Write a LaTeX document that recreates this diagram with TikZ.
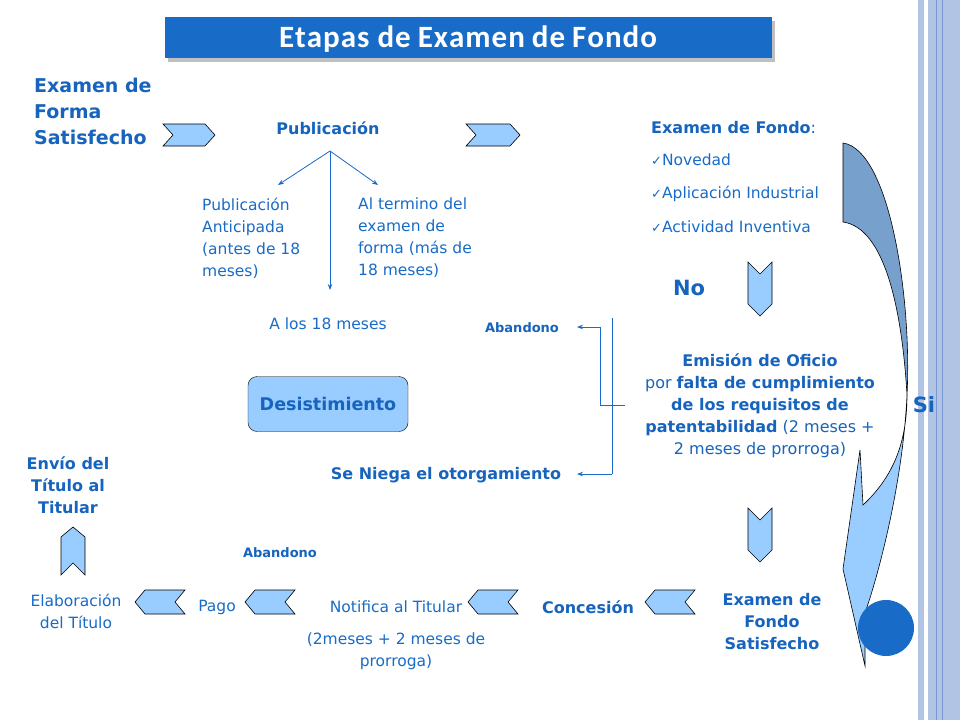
\documentclass[tikz,border=0pt]{standalone}
\usepackage{fontspec}
\usetikzlibrary{arrows.meta}
\setmainfont{DejaVu Sans}
\newfontfamily\titlefont{Carlito}
\newfontfamily\symfont{DejaVu Sans}
\definecolor{tblue}{RGB}{24,108,200}
\definecolor{dblue}{RGB}{22,100,190}
\definecolor{chev}{RGB}{153,204,255}
\definecolor{ribdark}{RGB}{120,160,204}
\definecolor{stripe}{RGB}{178,196,228}
\definecolor{stripeline}{RGB}{120,150,210}
\begin{document}
\begin{tikzpicture}[x=1pt,y=-1pt,
  txt/.style={text=tblue,font=\fontsize{15.5}{22}\selectfont,inner sep=0pt},
  btxt/.style={text=dblue,font=\fontsize{16}{22}\bfseries\selectfont,inner sep=0pt},
  chevbox/.style={fill=chev,draw=black,line width=0.6pt},
  conn/.style={draw=tblue,line width=0.8pt,-{Stealth[length=6pt]}},
  plainline/.style={draw=tblue,line width=0.8pt}]
\useasboundingbox (0,0) rectangle (960,720);
\fill[white] (0,0) rectangle (960,720);
% right stripes
\fill[stripe] (918,0) rectangle (924,720);
\fill[stripe] (928,0) rectangle (960,720);
\draw[stripeline,line width=0.8pt] (936,0) -- (936,720);
\draw[stripeline,line width=0.5pt] (942,0) -- (942,720);
% title
\fill[black!25] (168,21) rectangle (775,62);
\fill[tblue] (165,17) rectangle (772,58);
\node[text=white,font=\titlefont\fontsize{31}{32}\bfseries\selectfont,inner sep=0pt] (title) at (468,39) {E\kern1pt t\kern1pt a\kern1pt p\kern1pt a\kern1pt s\kern1pt\ d\kern1pt e\ E\kern1pt x\kern1pt a\kern1pt m\kern1pt e\kern1pt n\ d\kern1pt e\ F\kern1pt o\kern1pt n\kern1pt d\kern1pt o};
% chevrons right
\draw[chevbox] (163,124) -- (205,124) -- (215,135) -- (205,146) -- (163,146) -- (173,135) -- cycle;
\draw[chevbox] (466,124) -- (510,124) -- (520,135) -- (510,146) -- (466,146) -- (476,135) -- cycle;
% chevrons down
\draw[chevbox] (748,262) -- (760,274) -- (772,262) -- (772,304) -- (760,316) -- (748,304) -- cycle;
\draw[chevbox] (748,508) -- (760,520) -- (772,508) -- (772,550) -- (760,562) -- (748,550) -- cycle;
% chevrons left
\foreach \xa in {645,468,245,135}{
  \draw[chevbox] (\xa+10,590) -- (\xa+50,590) -- (\xa+40,602) -- (\xa+50,614) -- (\xa+10,614) -- (\xa,602) -- cycle;}
% chevron up
\draw[chevbox] (61,537) -- (73,527) -- (85,537) -- (85,575) -- (73,563) -- (61,575) -- cycle;
% ribbon arrow
\draw[fill=chev,draw=black,line width=0.6pt] (907,395) .. controls (903,480) and (880,570) .. (865,613) -- (865,666) -- (843,569) -- (860,450) -- (863,505) .. controls (895,475) and (907,440) .. (907,395) -- cycle;
\draw[fill=ribdark,draw=black,line width=0.6pt] (843,143) .. controls (890,150) and (912,300) .. (907,395) .. controls (902,310) and (885,228) .. (843,222) -- cycle;
\fill[tblue] (886,628) circle (28);
% texts
\node[btxt,font=\fontsize{19}{26}\bfseries\selectfont,align=left,anchor=north west] (forma) at (34,78) {Examen de\\Forma\\Satisfecho};
\node[btxt] (pub) at (328,128) {Publicación};
\node[btxt,anchor=west] (fondo) at (651,128) {Examen de Fondo\textmd{:}};
\node[txt,anchor=west] (nov) at (651,160) {{\symfont\fontsize{13}{13}\selectfont ✓}Novedad};
\node[txt,anchor=west] (apl) at (651,194) {{\symfont\fontsize{13}{13}\selectfont ✓}Aplicación Industrial};
\node[txt,anchor=west] (act) at (651,227) {{\symfont\fontsize{13}{13}\selectfont ✓}Actividad Inventiva};
\node[txt,align=left,anchor=north west] (ant) at (202,198) {Publicación\\Anticipada\\(antes de 18\\meses)};
\node[txt,align=left,anchor=north west] (term) at (358,198) {Al termino del\\examen de\\forma (más de\\18 meses)};
\node[txt] (a18) at (328,324) {A los 18 meses};
\coordinate (pubb) at (330,151);
\draw[conn] (pubb) -- (278,185);
\draw[conn] (pubb) -- (378,185);
\draw[conn] (pubb) -- (330,290);
\node[btxt,font=\fontsize{21}{21}\bfseries\selectfont] (no) at (689,288) {No};
\node[btxt,font=\fontsize{13}{13}\bfseries\selectfont] (ab1) at (522,328) {Abandono};
\node[btxt,align=center] (emi) at (760,406) {Emisión de Oficio\\\textmd{por }falta de cumplimiento\\de los requisitos de\\patentabilidad\textmd{ (2 meses +}\\\textmd{2 meses de prorroga)}};
\node[btxt,font=\fontsize{21}{21}\bfseries\selectfont] (si) at (924,405) {Si};
\node[btxt] (niega) at (446,475) {Se Niega el otorgamiento};
\draw[plainline] (612,318) -- (612,474);
\draw[conn] (612,474) -- (577,474);
\draw[conn] (625,405) -- (600,405) -- (600,327) -- (577,327);
\node[draw=black,fill=chev,rounded corners=9pt,minimum width=160pt,minimum height=55pt,btxt,font=\fontsize{17.5}{17}\bfseries\selectfont] (des) at (328,404) {Desistimiento};
\node[btxt,align=center] (envio) at (68,485) {Envío del\\Título al\\Titular};
\node[btxt,font=\fontsize{13}{13}\bfseries\selectfont] (ab2) at (280,553) {Abandono};
\node[txt,align=center] (elab) at (76,611) {Elaboración\\del Título};
\node[txt] (pago) at (217,607) {Pago};
\node[txt] (notif) at (396,607) {Notifica al Titular};
\node[txt,align=center] (plazo) at (396,651) {(2meses + 2 meses de\\prorroga)};
\node[btxt] (conc) at (588,607) {Concesión};
\node[btxt,align=center] (efs) at (772,622) {Examen de\\Fondo\\Satisfecho};
\end{tikzpicture}
\end{document}
